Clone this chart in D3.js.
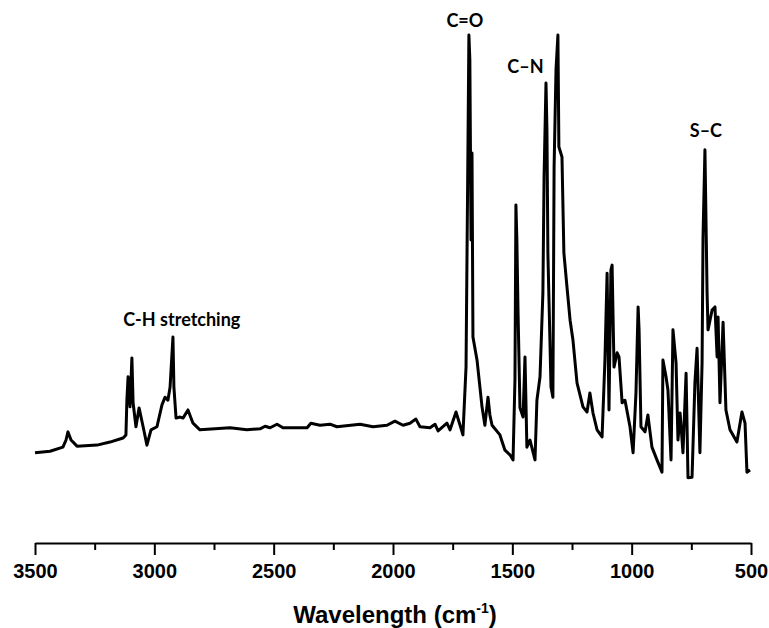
<!DOCTYPE html>
<html>
<head>
<meta charset="utf-8">
<script src="https://cdn.jsdelivr.net/npm/d3@7"></script>
<style>
  body { margin: 0; background: #fff; }
  svg { display: block; }
</style>
</head>
<body>
<svg width="769" height="628"></svg>
<script>
// Spectrum (wavenumber in cm-1, intensity in a.u.)
let wavenumbers = [3500, 3437, 3383, 3370, 3362, 3349, 3324, 3240, 3186, 3131, 3119, 3115, 3110, 3102, 3094, 3089, 3077, 3064, 3047, 3031,
    3014, 2989, 2968, 2955, 2943, 2934, 2922, 2918, 2909, 2892, 2880, 2859, 2838, 2809, 2683, 2612, 2557, 2536, 2515, 2486,
    2461, 2360, 2344, 2306, 2264, 2235, 2138, 2084, 2025, 1992, 1958, 1929, 1904, 1887, 1845, 1824, 1811, 1774, 1761, 1736,
    1719, 1707, 1694, 1686, 1682, 1678, 1673, 1669, 1665, 1648, 1627, 1615, 1602, 1594, 1585, 1552, 1531, 1510, 1497, 1489,
    1485, 1481, 1476, 1468, 1455, 1447, 1439, 1426, 1405, 1397, 1384, 1372, 1367, 1359, 1355, 1351, 1338, 1330, 1325, 1317,
    1309, 1305, 1292, 1284, 1271, 1258, 1246, 1229, 1204, 1187, 1175, 1162, 1145, 1124, 1112, 1103, 1095, 1087, 1082, 1074,
    1061, 1053, 1040, 1028, 1007, 994, 982, 973, 969, 961, 944, 932, 915, 894, 873, 869, 856, 848, 835, 827,
    814, 806, 797, 785, 772, 764, 747, 735, 726, 714, 705, 701, 693, 684, 680, 663, 651, 642, 638, 630,
    617, 605, 588, 559, 538, 525, 517, 504];
let intensity = [17.3, 17.6, 18.4, 19.8, 21.4, 19.8, 18.6, 18.8, 19.4, 20.2, 20.8, 27.6, 32.2, 26.3, 35.9, 27.1, 22.4, 26.1, 22.4, 18.8,
    21.8, 22.4, 26.7, 28.2, 27.6, 30.2, 40.0, 30.2, 24.1, 24.3, 24.1, 25.7, 23.1, 21.8, 22.2, 21.8, 22.0, 22.5, 22.2, 22.9,
    22.2, 22.2, 23.1, 22.7, 22.9, 22.4, 22.9, 22.4, 22.7, 23.5, 22.7, 23.1, 23.9, 22.4, 22.2, 22.9, 21.6, 23.1, 21.8, 25.3,
    22.7, 20.8, 34.1, 76.7, 99.2, 94.3, 59.0, 76.1, 40.0, 35.5, 26.3, 22.7, 28.2, 24.7, 22.7, 20.8, 17.8, 16.9, 15.9, 31.6,
    65.9, 59.0, 44.7, 26.1, 24.3, 36.1, 18.4, 19.8, 15.9, 27.6, 32.2, 48.6, 71.4, 89.8, 80.6, 56.5, 30.2, 28.2, 73.3, 92.4,
    99.2, 77.3, 75.3, 56.5, 49.8, 43.3, 39.4, 31.0, 26.3, 25.3, 29.0, 25.1, 21.8, 20.4, 35.5, 52.5, 25.7, 53.1, 54.1, 34.1,
    36.9, 36.1, 27.1, 27.6, 22.4, 17.3, 29.0, 45.9, 41.4, 22.4, 21.4, 24.7, 18.4, 15.9, 13.5, 35.5, 32.2, 29.6, 15.9, 41.4,
    34.9, 19.8, 25.1, 17.3, 32.9, 12.4, 12.5, 31.0, 37.8, 17.3, 34.9, 59.6, 76.7, 48.6, 41.4, 45.3, 45.9, 36.1, 43.9, 27.1,
    42.9, 25.7, 21.8, 19.4, 25.3, 23.1, 13.5, 13.9];

let majorTicks = [3500, 3000, 2500, 2000, 1500, 1000, 500];
let minorTicks = [3250, 2750, 2250, 1750, 1250, 750];

// Peak labels: text, wavenumber of label centre, intensity level of label baseline
let annotationLabels = ["C-H stretching", "C=O", "C\u2013N", "S\u2013C"];
let annotationWavenumbers = [2885, 1699, 1445, 689];
let annotationLevels = [42.2, 100.8, 91.8, 79.2];

let svg = d3.select("svg");
let axisY = 543;

let x = d3.scaleLinear().domain([3500, 500]).range([35, 751]);
let y = d3.scaleLinear().domain([0, 100]).range([541, 31]);

let spectrum = wavenumbers.map((w, i) => ({ w: w, v: intensity[i] }));

let line = d3.line()
    .x(d => x(d.w))
    .y(d => y(d.v));

svg.append("path")
    .datum(spectrum)
    .attr("fill", "none")
    .attr("stroke", "#000")
    .attr("stroke-width", 3)
    .attr("stroke-linejoin", "round")
    .attr("d", line);

// Bottom axis with major and minor ticks
let axisG = svg.append("g")
    .attr("transform", "translate(0," + axisY + ")")
    .call(d3.axisBottom(x).tickValues(majorTicks).tickSize(12).tickSizeOuter(0).tickFormat(d3.format("d")));

axisG.select(".domain").attr("stroke-width", 2).attr("stroke", "#000");
axisG.selectAll(".tick line").attr("stroke-width", 2).attr("stroke", "#000");
axisG.selectAll(".tick text")
    .attr("y", 21)
    .attr("dy", "0.71em")
    .attr("fill", "#000")
    .style("font-family", "'Liberation Sans', Arial, sans-serif")
    .style("font-weight", "bold")
    .style("font-size", "20px");

let minorG = svg.append("g")
    .attr("transform", "translate(0," + axisY + ")")
    .call(d3.axisBottom(x).tickValues(minorTicks).tickSize(7).tickFormat(""));
minorG.select(".domain").remove();
minorG.selectAll(".tick line").attr("stroke-width", 2).attr("stroke", "#000");

// Axis title
let title = svg.append("text")
    .attr("x", 395)
    .attr("y", 623)
    .attr("text-anchor", "middle")
    .style("font-family", "'Liberation Sans', Arial, sans-serif")
    .style("font-weight", "bold")
    .style("font-size", "24px");
title.append("tspan").text("Wavelength (cm");
title.append("tspan").attr("dy", -10).style("font-size", "14px").text("-1");
title.append("tspan").attr("dy", 10).text(")");

// Peak annotations
svg.selectAll(".annotation")
    .data(annotationLabels)
    .enter().append("text")
    .attr("class", "annotation")
    .attr("x", (d, i) => x(annotationWavenumbers[i]))
    .attr("y", (d, i) => y(annotationLevels[i]))
    .attr("text-anchor", "middle")
    .style("font-family", "Lato, 'Open Sans', sans-serif")
    .style("font-weight", "bold")
    .style("font-size", "18px")
    .text(d => d);
</script>
</body>
</html>
